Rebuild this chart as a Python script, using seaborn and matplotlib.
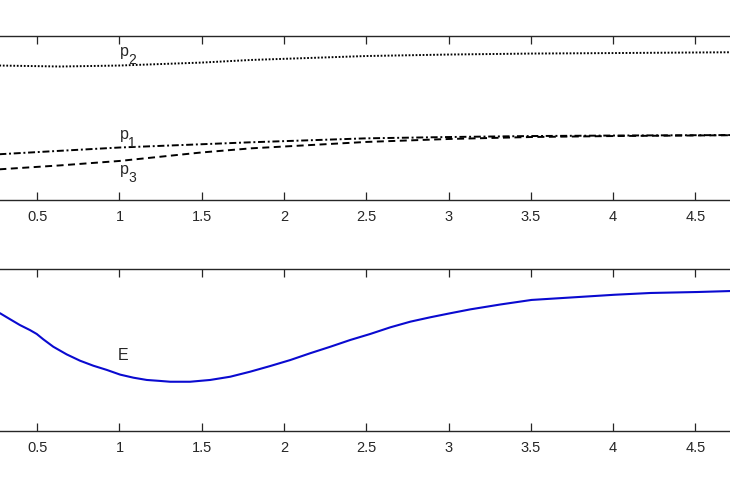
import pandas as pd
import matplotlib
matplotlib.use("Agg")
import matplotlib.pyplot as plt
import seaborn as sns

# Top panel: p1, p2, p3 (arbitrary y units 0..1)
p_x = [0.27, 0.64, 1.0, 1.5, 1.8, 2.5, 3.0, 3.5, 4.0, 4.72]
p2_y = [0.820, 0.814, 0.820, 0.838, 0.854, 0.878, 0.887, 0.893, 0.896, 0.901]
p1_y = [0.279, 0.300, 0.320, 0.340, 0.352, 0.376, 0.384, 0.390, 0.393, 0.396]
p3_y = [0.187, 0.211, 0.238, 0.290, 0.315, 0.354, 0.372, 0.384, 0.390, 0.395]

# Bottom panel: E
e_x = [0.274, 0.335, 0.395, 0.456, 0.497, 0.537, 0.598, 0.679, 0.760, 0.841,
       0.923, 1.004, 1.085, 1.166, 1.247, 1.308, 1.429, 1.551, 1.673, 1.794,
       1.916, 2.038, 2.159, 2.281, 2.403, 2.524, 2.646, 2.768, 2.889, 3.011,
       3.133, 3.315, 3.504, 3.741, 4.008, 4.228, 4.513, 4.714]
e_y = [0.727, 0.690, 0.654, 0.623, 0.599, 0.566, 0.520, 0.473, 0.434, 0.403,
       0.377, 0.348, 0.329, 0.315, 0.309, 0.304, 0.304, 0.315, 0.335, 0.366,
       0.401, 0.438, 0.480, 0.520, 0.562, 0.599, 0.640, 0.675, 0.702, 0.727,
       0.751, 0.781, 0.809, 0.824, 0.841, 0.852, 0.858, 0.864]

x_ticks = [0.5, 1, 1.5, 2, 2.5, 3, 3.5, 4, 4.5]
x_tick_labels = ["0.5", "1", "1.5", "2", "2.5", "3", "3.5", "4", "4.5"]

# curve labels: (text, subscript, x, baseline y)
top_labels = [("p", "2", 1.004, 0.876),
              ("p", "1", 1.004, 0.372),
              ("p", "3", 1.004, 0.158)]

sns.set_style("white")
plt.rcParams['font.family'] = ['Liberation Sans', 'DejaVu Sans']

grey = "#262626"

fig = plt.figure(figsize=(7.3, 4.86), dpi=100)
ax1 = fig.add_axes([0.0, 0.5885, 1.0, 0.3374])
ax2 = fig.add_axes([0.0, 0.1132, 1.0, 0.3333])

top = pd.DataFrame({"x": p_x, "p1": p1_y, "p2": p2_y, "p3": p3_y})
sns.lineplot(data=top, x="x", y="p2", ax=ax1, color="black", lw=1.4,
             linestyle=(0, (0.9, 0.9)))
sns.lineplot(data=top, x="x", y="p1", ax=ax1, color="black", lw=1.4,
             linestyle=(0, (3.6, 1.4, 1, 1.4)))
sns.lineplot(data=top, x="x", y="p3", ax=ax1, color="black", lw=1.4,
             linestyle=(0, (3.6, 2.3)))

bottom = pd.DataFrame({"x": e_x, "E": e_y})
sns.lineplot(data=bottom, x="x", y="E", ax=ax2, color="#0a0ad0", lw=1.5)

# MATLAB-style labels: full-height subscript set below the baseline
for txt, sub, lx, ly in top_labels:
    ax1.text(lx, ly, txt, fontsize=11.5, color=grey, va="baseline")
    ax1.annotate(sub, xy=(lx, ly), xytext=(5.9, -5.5), textcoords="offset points",
                 fontsize=10, color=grey, va="baseline")
ax2.text(0.987, 0.438, "E", fontsize=11.5, color=grey, va="baseline")

for ax in (ax1, ax2):
    ax.set_xlim(0.274, 4.71)
    ax.set_ylim(0, 1)
    ax.set_xticks(x_ticks)
    ax.set_xticklabels(x_tick_labels)
    ax.set_yticks([])
    ax.set_xlabel("")
    ax.set_ylabel("")
    ax.spines["left"].set_visible(False)
    ax.spines["right"].set_visible(False)
    for s in ("top", "bottom"):
        ax.spines[s].set_color(grey)
        ax.spines[s].set_linewidth(1.0)
    ax.tick_params(axis="x", direction="in", top=True, bottom=True,
                   length=5.8, width=0.9, color=grey, labelcolor=grey,
                   labelsize=10.5, pad=7)

fig.savefig("out.png", dpi=100)
